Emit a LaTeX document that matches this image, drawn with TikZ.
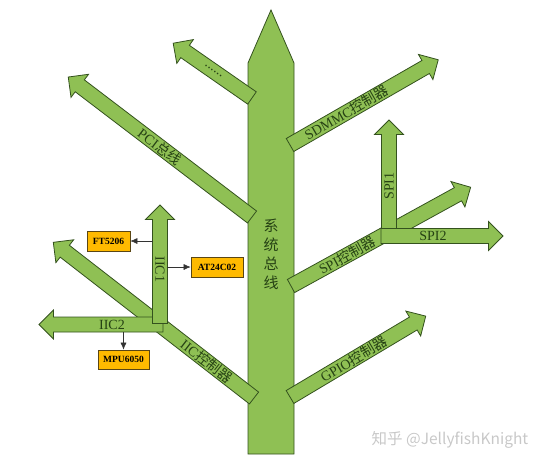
\documentclass[tikz,border=0pt]{standalone}
\usepackage{fontspec}
\setmainfont{Liberation Serif}
\newfontfamily\cjk{Noto Sans CJK SC}
\usetikzlibrary{arrows.meta}
\definecolor{vert}{RGB}{143,192,84}
\definecolor{contour}{RGB}{52,82,30}
\definecolor{texte}{RGB}{38,66,20}
\definecolor{jaune}{RGB}{255,186,0}
\definecolor{brun}{RGB}{90,70,20}
\definecolor{filigrane}{RGB}{200,200,200}
\begin{document}
\begin{tikzpicture}[x=1pt,y=-1pt,
  branche/.style={fill=vert, draw=contour, line width=0.8pt, line join=miter},
  etiquette/.style={text=texte, inner sep=0pt, font=\fontsize{14}{14}\selectfont},
  boite/.style={fill=jaune, draw=brun, line width=0.7pt, minimum height=20pt, inner sep=0pt, font=\fontsize{9.5}{10}\selectfont\bfseries},
  lien/.style={draw=black!80, line width=0.6pt, >={Latex[length=7pt,width=6pt]}, ->}]
  \useasboundingbox (0,0) rectangle (548,466);
  % Tronc
  \draw [branche] (248,454) -- (248,63) -- (271,10) -- (294,63) -- (294,454) -- cycle;
  \node [etiquette, font=\cjk\fontsize{15}{19}\selectfont, align=center] (bus) at (271,254) {系\\统\\总\\线};
  % Branches
  \foreach \x/\y/\a/\l/\d/\r/\t [count=\i] in {
    252/98/145.2/96/47/-34.8/{......},
    252/217/142.7/231/116/-37.3/PCI{\cjk 总线},
    254/398/142.2/254/60/-37.8/IIC{\cjk 控制器},
    290/145/29.9/171/65/29.9/SDMMC{\cjk 控制器},
    291/286/28.8/205/64/28.8/SPI{\cjk 控制器},
    290/397/30.8/158/74/30.8/GPIO{\cjk 控制器},
    163/324.5/180/124/51/0/IIC2,
    160/323.5/90/118.5/54/-90/IIC1,
    389/229/90/109/43/90/SPI1,
    381/236/0/122/52/0/SPI2}
  {
    \begin{scope}[shift={(\x,\y)}, rotate=\a]
      \draw [branche] (0,-7.5) -- (\l-14.5,-7.5) -- (\l-14.5,-14.5) -- (\l,0)
        -- (\l-14.5,14.5) -- (\l-14.5,7.5) -- (0,7.5) -- cycle;
      \node [etiquette, rotate=\r] (br\i) at (\d,0) {\t};
    \end{scope}
  }
  % Peripheriques IIC
  \node [boite, minimum width=43pt] (ft) at (108.5,241) {FT5206};
  \node [boite, minimum width=52pt] (at24) at (217,267) {AT24C02};
  \node [boite, minimum width=51pt, minimum height=19pt] (mpu) at (123.5,359.5) {MPU6050};
  \coordinate (g1) at (153,241);
  \coordinate (d1) at (167,267);
  \coordinate (b2) at (123.5,332);
  \draw [lien] (g1) -- (ft);
  \draw [lien] (d1) -- (at24);
  \draw [lien] (b2) -- (mpu);
  % Filigrane
  \node [text=filigrane, font=\cjk\fontsize{15.5}{16}\selectfont] (filig) at (450,440) {知乎 @JellyfishKnight};
\end{tikzpicture}
\end{document}
